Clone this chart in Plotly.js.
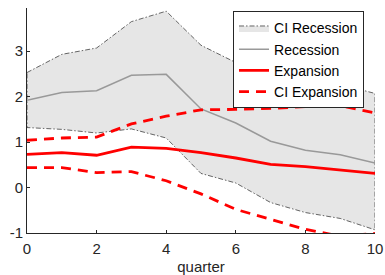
<!DOCTYPE html>
<html>
<head>
<meta charset="utf-8">
<script src="https://cdn.plot.ly/plotly-3.0.1.min.js"></script>
<style>html,body{margin:0;padding:0;background:#fff;}#chart{width:385px;height:275px;}</style>
</head>
<body>
<div id="chart"></div>
<script>
var quarters = [0, 1, 2, 3, 4, 5, 6, 7, 8, 9, 10];
var recession = [1.92, 2.09, 2.13, 2.47, 2.49, 1.73, 1.42, 1.02, 0.82, 0.72, 0.54];
var ciRecessionUpper = [2.53, 2.93, 3.07, 3.65, 3.88, 3.13, 2.75, 2.58, 2.42, 2.27, 2.07];
var ciRecessionLower = [1.32, 1.28, 1.20, 1.29, 1.09, 0.31, 0.10, -0.33, -0.55, -0.68, -0.93];
var expansion = [0.73, 0.77, 0.71, 0.89, 0.86, 0.77, 0.65, 0.51, 0.46, 0.38, 0.31];
var ciExpansionUpper = [1.04, 1.09, 1.11, 1.40, 1.57, 1.71, 1.72, 1.74, 1.78, 1.80, 1.64];
var ciExpansionLower = [0.44, 0.44, 0.33, 0.35, 0.15, -0.14, -0.48, -0.70, -0.92, -1.07, -1.01];
var xTicks = [0, 2, 4, 6, 8, 10];
var yTicks = [-1, 0, 1, 2, 3];

var polyX = quarters.concat(quarters.slice().reverse()).concat([quarters[0]]);
var polyY = ciRecessionUpper.concat(ciRecessionLower.slice().reverse()).concat([ciRecessionUpper[0]]);

var axisColor = '#262626';
var traces = [
  {x: polyX, y: polyY, type: 'scatter', mode: 'lines', fill: 'toself', fillcolor: '#e6e6e6',
   line: {color: '#404040', width: 0.8, dash: '5px,2px,1.5px,2px'}, name: 'CI Recession'},
  {x: quarters, y: recession, type: 'scatter', mode: 'lines',
   line: {color: '#999999', width: 1.5}, name: 'Recession'},
  {x: quarters, y: expansion, type: 'scatter', mode: 'lines',
   line: {color: '#ff0000', width: 2.8}, name: 'Expansion'},
  {x: quarters, y: ciExpansionUpper, type: 'scatter', mode: 'lines',
   line: {color: '#ff0000', width: 2.8, dash: '10px,7px'}, name: 'CI Expansion', legendgroup: 'cie'},
  {x: quarters, y: ciExpansionLower, type: 'scatter', mode: 'lines',
   line: {color: '#ff0000', width: 2.8, dash: '10px,7px'}, name: 'CI Expansion', legendgroup: 'cie', showlegend: false}
];

var layout = {
  width: 385, height: 275,
  margin: {l: 27, r: 10, t: 8, b: 41.5},
  paper_bgcolor: '#ffffff', plot_bgcolor: '#ffffff',
  font: {family: 'Liberation Sans, Arial, sans-serif', size: 14, color: axisColor},
  showlegend: true,
  xaxis: {
    range: [0, 10], tickvals: xTicks, ticktext: xTicks.map(String),
    showgrid: false, zeroline: false, showline: true, linecolor: axisColor, linewidth: 1,
    ticks: 'inside', ticklen: 3, tickcolor: axisColor, ticklabelstandoff: 2,
    tickfont: {size: 15, color: axisColor},
    title: {text: 'quarter', font: {size: 15, color: axisColor}, standoff: 5}
  },
  yaxis: {
    range: [-1, 3.95], tickvals: yTicks, ticktext: yTicks.map(String),
    showgrid: false, zeroline: false, showline: true, linecolor: axisColor, linewidth: 1,
    ticks: 'inside', ticklen: 3, tickcolor: axisColor,
    tickfont: {size: 15, color: axisColor}
  },
  legend: {
    x: 0.592, y: 0.985, xanchor: 'left', yanchor: 'top',
    bgcolor: '#ffffff', bordercolor: '#262626', borderwidth: 1,
    font: {size: 14, color: '#000000'}, itemwidth: 30, tracegroupgap: 0
  }
};

Plotly.newPlot('chart', traces, layout, {displayModeBar: false, staticPlot: true});
</script>
</body>
</html>
